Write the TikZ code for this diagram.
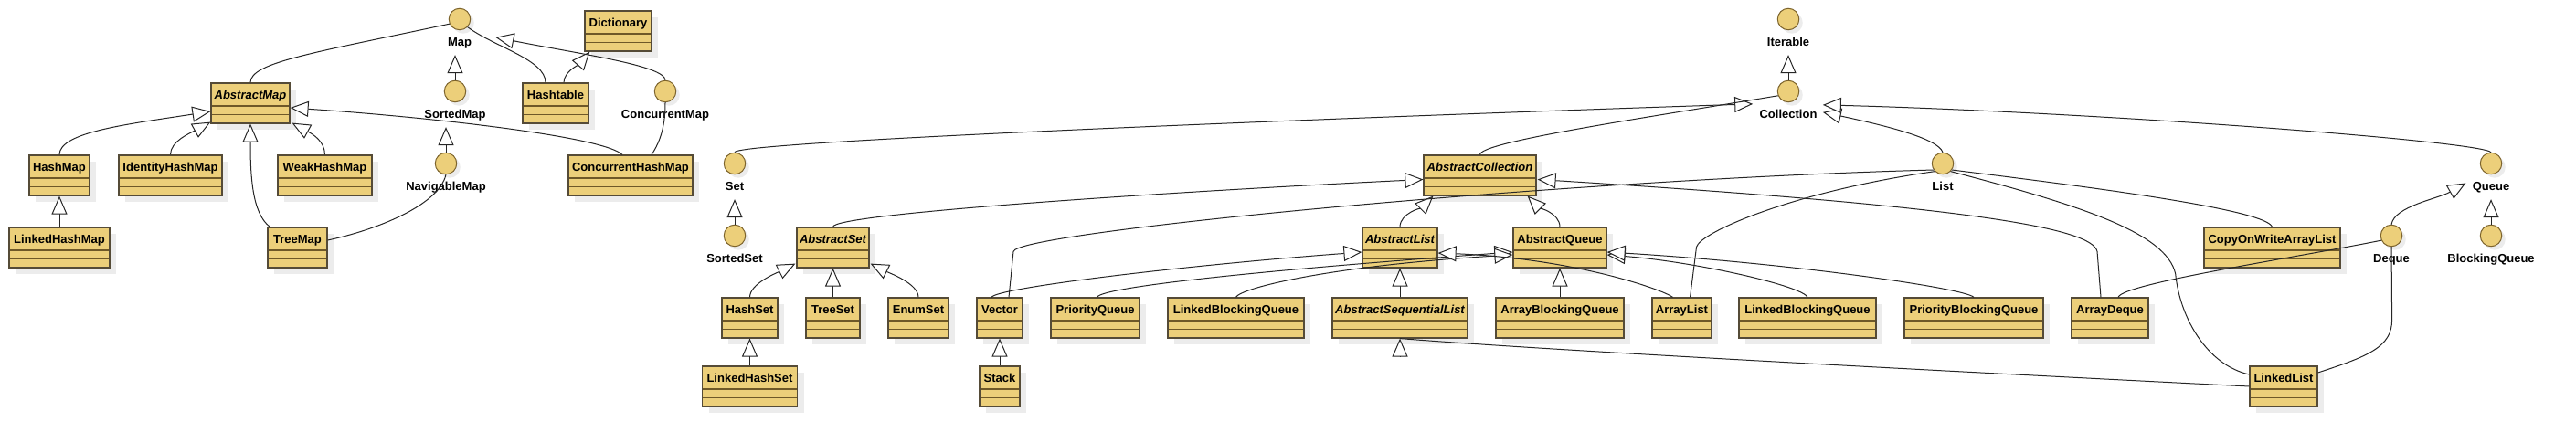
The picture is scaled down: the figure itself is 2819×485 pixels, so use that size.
\documentclass[tikz,border=0pt]{standalone}
\usepackage{fontspec}
\setmainfont{Liberation Sans}
\usetikzlibrary{arrows.meta,shadows}

\definecolor{clsfill}{RGB}{236,207,122}
\definecolor{clsborder}{RGB}{85,75,55}
\definecolor{clsline}{RGB}{110,88,40}
\definecolor{ifcborder}{RGB}{125,100,45}
\definecolor{shadowgray}{RGB}{236,236,236}

\tikzset{
  umltext/.style={font=\fontsize{6.5}{7}\selectfont\bfseries},
  cls/.style={umltext, rectangle, draw=clsborder, line width=0.6pt, fill=clsfill,
    inner sep=0pt, minimum height=22pt, text height=8.85pt, text depth=13.15pt,
    drop shadow={shadow xshift=3.5pt, shadow yshift=-3.5pt, fill=shadowgray, opacity=1},
    path picture={
      \draw[clsline, line width=0.85pt] ([yshift=-12.5pt]path picture bounding box.north west) -- ([yshift=-12.5pt]path picture bounding box.north east);
      \draw[clsline, line width=0.85pt] ([yshift=-17.25pt]path picture bounding box.north west) -- ([yshift=-17.25pt]path picture bounding box.north east);
    }},
  abscls/.style={cls, font=\fontsize{6.5}{7}\selectfont\bfseries\itshape},
  bw/.style={minimum width=#1*0.5pt},
  ifc/.style={circle, draw=ifcborder, line width=0.5pt, fill=clsfill, minimum size=11.75pt, inner sep=0pt,
    drop shadow={shadow xshift=2pt, shadow yshift=-2pt, fill=shadowgray, opacity=1}},
  lbl/.style={umltext, inner sep=0pt, text height=4.75pt, text depth=4.5pt},
  rel/.style={draw=black!85, line width=0.5pt},
  gen/.style={rel, -{Triangle[length=10pt, width=8.5pt, fill=white]}},
}

\begin{document}
\begin{tikzpicture}[x=0.5pt, y=-0.5pt, label distance=3.8pt, every label/.style={lbl}]

\useasboundingbox (0,0) rectangle (2819,485);

\node[ifc, label={[name=maplbl]below:Map}] (map) at (503,21) {};
\node[ifc, label={[name=sortedmaplbl]below:SortedMap}] (sortedmap) at (498,100) {};
\node[ifc, label={[name=concurrentmaplbl]below:ConcurrentMap}] (concurrentmap) at (728,100) {};
\node[ifc, label={[name=navigablemaplbl]below:NavigableMap}] (navigablemap) at (488,179) {};
\node[ifc, label={[name=setlbl]below:Set}] (set) at (804,179) {};
\node[ifc, label={[name=sortedsetlbl]below:SortedSet}] (sortedset) at (804,258) {};
\node[ifc, label={[name=iterablelbl]below:Iterable}] (iterable) at (1957,21) {};
\node[ifc, label={[name=collectionlbl]below:Collection}] (collection) at (1957,100) {};
\node[ifc, label={[name=listlbl]below:List}] (list) at (2126,179) {};
\node[ifc, label={[name=queuelbl]below:Queue}] (queue) at (2726,179) {};
\node[ifc, label={[name=dequelbl]below:Deque}] (deque) at (2617,258) {};
\node[ifc, label={[name=blockingqueuelbl]below:BlockingQueue}] (blockingqueue) at (2726,258) {};

\node[cls, bw=73] (dictionary) at (676.5,34) {Dictionary};
\node[abscls, bw=86] (abstractmap) at (274,113) {AbstractMap};
\node[cls, bw=72] (hashtable) at (608,113) {Hashtable};
\node[cls, bw=66] (hashmap) at (65,192) {HashMap};
\node[cls, bw=113] (identityhashmap) at (186.5,192) {IdentityHashMap};
\node[cls, bw=103] (weakhashmap) at (355.5,192) {WeakHashMap};
\node[cls, bw=136] (concurrenthashmap) at (690,192) {ConcurrentHashMap};
\node[abscls, bw=123] (abstractcollection) at (1619.5,192) {AbstractCollection};
\node[cls, bw=110] (linkedhashmap) at (65,271) {LinkedHashMap};
\node[cls, bw=65] (treemap) at (325.5,271) {TreeMap};
\node[abscls, bw=79] (abstractset) at (911.5,271) {AbstractSet};
\node[abscls, bw=82] (abstractlist) at (1532,271) {AbstractList};
\node[cls, bw=102] (abstractqueue) at (1707,271) {AbstractQueue};
\node[cls, bw=149] (copyonwritearraylist) at (2486.5,271) {CopyOnWriteArrayList};
\node[cls, bw=61] (hashset) at (820.5,348) {HashSet};
\node[cls, bw=59] (treeset) at (911.5,348) {TreeSet};
\node[cls, bw=66] (enumset) at (1005,348) {EnumSet};
\node[cls, bw=50] (vector) at (1094,348) {Vector};
\node[cls, bw=97] (priorityqueue) at (1198.5,348) {PriorityQueue};
\node[cls, bw=149] (linkedblockingqueue) at (1352.5,348) {LinkedBlockingQueue};
\node[abscls, bw=148] (abstractsequentiallist) at (1532,348) {AbstractSequentialList};
\node[cls, bw=140] (arrayblockingqueue) at (1707,348) {ArrayBlockingQueue};
\node[cls, bw=65] (arraylist) at (1840.5,348) {ArrayList};
\node[cls, bw=150] (linkedblockingqueueb) at (1978,348) {LinkedBlockingQueue};
\node[cls, bw=152] (priorityblockingqueue) at (2160,348) {PriorityBlockingQueue};
\node[cls, bw=84] (arraydeque) at (2309,348) {ArrayDeque};
\node[cls, bw=104] (linkedhashset) at (820.5,423) {LinkedHashSet};
\node[cls, bw=44] (stack) at (1094,423) {Stack};
\node[cls, bw=74] (linkedlist) at (2499,423) {LinkedList};

\draw[rel] (abstractmap.north) .. controls +(0,-22) and +(-150,32) .. (map.205);
\draw[rel] ([shift={(-11,0)}]hashtable.north) .. controls +(0,-25) and +(30,22) .. (map.-45);
\draw[gen] ([shift={(9,0)}]hashtable.north) .. controls +(0,-12) and +(-12,14) .. ([shift={(6,0)}]dictionary.south west);
\draw[gen] (concurrentmap.north) .. controls +(0,-16) and +(90,18) .. ([shift={(26,0)}]maplbl.north east);
\draw[gen] (sortedmap.north) -- (sortedmap.north |- maplbl.south);
\draw[gen] (navigablemap.north) -- (navigablemap.north |- sortedmaplbl.south);
\draw[rel] ([shift={(0,-8)}]treemap.east) .. controls +(52,-11) and +(-8,34) .. (navigablemap.south);
\draw[gen] ([shift={(3,0)}]treemap.north west) .. controls +(-20,-15) and +(0,55) .. (abstractmap.south);
\draw[gen] (hashmap.north) .. controls +(0,-25) and +(-90,14) .. ([shift={(0,9)}]abstractmap.west);
\draw[gen] (identityhashmap.north) .. controls +(0,-15) and +(-22,12) .. ([shift={(0,-2)}]abstractmap.south west);
\draw[gen] (weakhashmap.north) .. controls +(0,-15) and +(22,12) .. ([shift={(2,-1)}]abstractmap.south east);
\draw[gen] ([shift={(-9,0)}]concurrenthashmap.north) .. controls +(-20,-20) and +(150,10) .. ([shift={(0,5)}]abstractmap.east);
\draw[rel] ([shift={(23,0)}]concurrenthashmap.north) .. controls +(10,-15) and +(0,25) .. (concurrentmap.south);
\draw[gen] (linkedhashmap.north) -- (hashmap.south);

\draw[gen] (collection.north) -- (iterablelbl.south);
\draw[gen] (set.north) .. controls +(0,-14) and +(-218,7) .. ([shift={(-7,-6)}]collectionlbl.north west);
\draw[rel] (abstractcollection.north) .. controls +(0,-14) and +(-150,25) .. (collection.203);
\draw[gen] (list.north) .. controls +(-5,-15) and +(70,15) .. ([shift={(6,3)}]collectionlbl.north east);
\draw[gen] (queue.north) .. controls +(-10,-12) and +(300,8) .. ([shift={(6,-5)}]collectionlbl.north east);
\draw[gen] (sortedset.north) -- (sortedset.north |- setlbl.south);
\draw[gen] (blockingqueue.north) -- (blockingqueue.north |- queuelbl.south);
\draw[gen] (deque.north) .. controls +(3,-20) and +(-30,17) .. ([shift={(-7,-3)}]queuelbl.mid west);

\draw[gen] (abstractset.north) .. controls +(0,-15) and +(-250,12) .. ([shift={(0,4.5)}]abstractcollection.west);
\draw[gen] (abstractlist.north) .. controls +(0,-15) and +(-12,12) .. ([shift={(11,0)}]abstractcollection.south west);
\draw[gen] (abstractqueue.north) .. controls +(0,-15) and +(12,12) .. ([shift={(-10,0)}]abstractcollection.south east);
\draw[gen] ([shift={(-10,0)}]arraydeque.north) -- ++(-4,-50) .. controls +(-5,-26) and +(468,29) .. ([shift={(1,4.5)}]abstractcollection.east);
\draw[rel] ([shift={(9,0)}]arraydeque.north) .. controls +(5,-15) and +(-100,20) .. (deque.205);

\draw[gen] (hashset.north) .. controls +(0,-15) and +(-20,10) .. ([shift={(-1,-5)}]abstractset.south west);
\draw[gen] (treeset.north) -- (abstractset.south);
\draw[gen] (enumset.north) .. controls +(0,-15) and +(20,10) .. ([shift={(1,-5)}]abstractset.south east);
\draw[gen] (linkedhashset.north) -- (hashset.south);
\draw[gen] (stack.north) -- (vector.south);

\draw[rel] ([shift={(10,0)}]vector.north) -- ++(5,-50) .. controls +(1,-21) and +(-414,11) .. (list.215);
\draw[rel] ([shift={(9,0)}]arraylist.north) -- ++(7,-55) .. controls +(4,-16) and +(-155,22) .. (list.225);
\draw[rel] (list.-35) .. controls +(154,19) and +(-7,-19) .. (copyonwritearraylist.north);
\draw[rel] (list.-45) .. controls +(146,38) and +(-10,-44) .. ++(246,112) .. controls +(5,50) and +(-45,-10) .. ([shift={(0,-13)}]linkedlist.west);
\draw[rel] ([shift={(0,-15)}]linkedlist.east) .. controls +(55,-18) and +(0,30) .. ++(81,-58) -- (deque.south);

\draw[gen] ([shift={(-9,0)}]vector.north) .. controls +(5,-10) and +(-200,15) .. ([shift={(0,5)}]abstractlist.west);
\draw[gen] ([shift={(2,0)}]priorityqueue.north) .. controls +(5,-12) and +(-250,18) .. ([shift={(0,5)}]abstractqueue.west);
\draw[gen] (linkedblockingqueue.north) .. controls +(5,-10) and +(-200,12) .. ([shift={(0,8)}]abstractqueue.west);
\draw[gen] ([shift={(-10,0)}]arraylist.north) .. controls +(-10,-8) and +(150,6) .. ([shift={(0,6)}]abstractlist.east);
\draw[gen] (linkedblockingqueueb.north) .. controls +(-5,-12) and +(100,8) .. ([shift={(0,8)}]abstractqueue.east);
\draw[gen] (priorityblockingqueue.north) .. controls +(-10,-10) and +(200,12) .. ([shift={(0,5)}]abstractqueue.east);
\draw[gen] (arrayblockingqueue.north) -- (abstractqueue.south);
\draw[gen] (abstractsequentiallist.north) -- (abstractlist.south);
\draw[rel] (linkedlist.west) .. controls +(-400,-20) and +(150,12) .. (abstractsequentiallist.south);
\draw[gen] ([shift={(0,20)}]abstractsequentiallist.south) -- (abstractsequentiallist.south);

\end{tikzpicture}
\end{document}
